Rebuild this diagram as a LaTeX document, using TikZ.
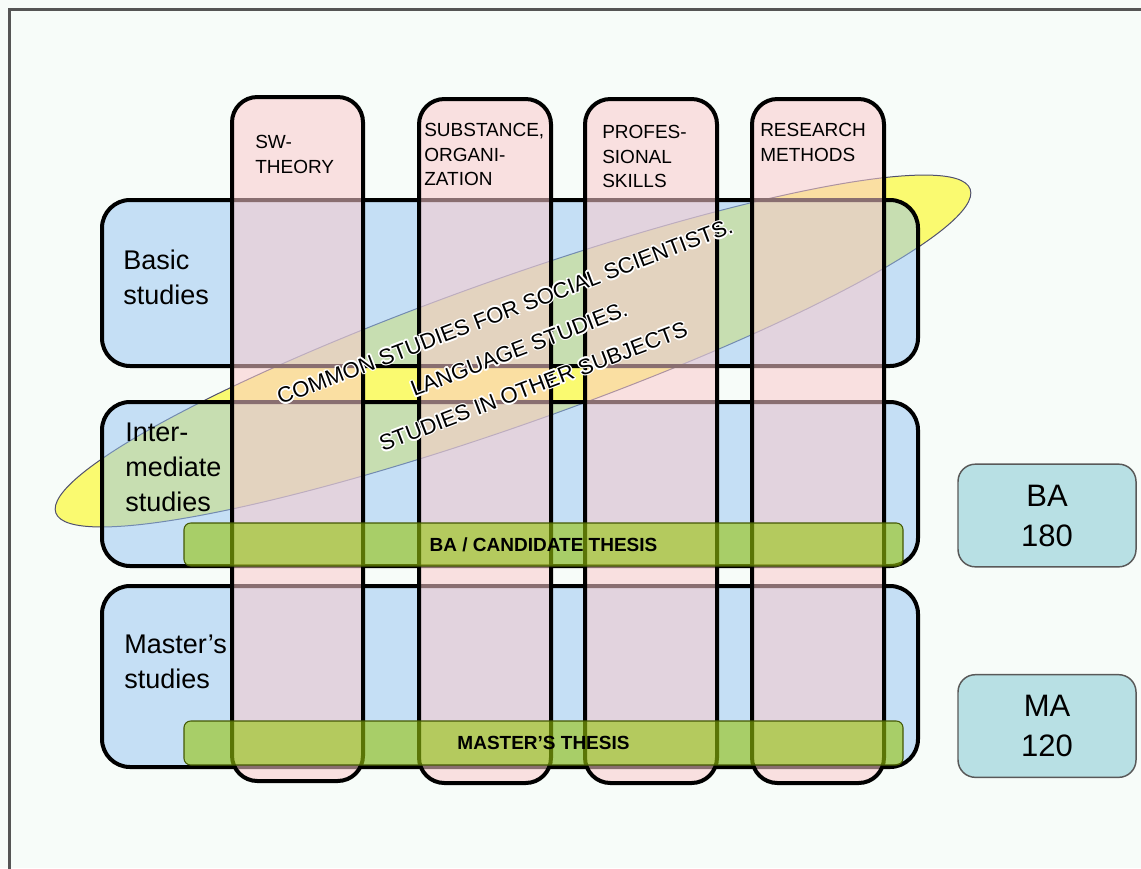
\documentclass[tikz,border=0pt]{standalone}
\usepackage{fontspec}
\setmainfont{Liberation Sans}
\usetikzlibrary{fit,shapes.geometric}
\definecolor{bgc}{RGB}{247,252,249}
\definecolor{rowc}{RGB}{149,196,243}
\definecolor{colc}{RGB}{251,202,204}
\definecolor{ellc}{RGB}{250,250,112}
\definecolor{barc}{RGB}{150,196,10}
\definecolor{degc}{RGB}{184,224,228}
\definecolor{framec}{RGB}{85,85,85}
\definecolor{ellline}{RGB}{80,80,110}
\newcommand\hlcopy[3]{\rlap{\hskip#1\raisebox{#2}{\textcolor{white}{#3}}}}
\newcommand\halo[1]{\hlcopy{1.2pt}{0pt}{#1}\hlcopy{-1.2pt}{0pt}{#1}\hlcopy{0pt}{1.2pt}{#1}\hlcopy{0pt}{-1.2pt}{#1}\hlcopy{.85pt}{.85pt}{#1}\hlcopy{-.85pt}{.85pt}{#1}\hlcopy{.85pt}{-.85pt}{#1}\hlcopy{-.85pt}{-.85pt}{#1}#1}
\tikzset{
 rowbox/.style={draw=black, line width=3pt, fill=rowc, fill opacity=0.5, rounded corners=21pt, inner sep=0pt},
 colbox/.style={draw=black, line width=3pt, fill=colc, fill opacity=0.55, rounded corners=19pt, inner sep=0pt},
 thesisbar/.style={draw=black!55!barc, line width=0.8pt, fill=barc, fill opacity=0.6, rounded corners=5pt, inner sep=0pt},
 degbox/.style={draw=black!65, line width=1.1pt, fill=degc, rounded corners=13pt, minimum width=133.5pt, minimum height=77pt, align=center, font=\fontsize{23.25}{30}\selectfont, inner sep=0pt},
 rowlabel/.style={anchor=north west, inner sep=0pt, align=left, font=\fontsize{20.25}{26.25}\selectfont},
 collabel/.style={anchor=north west, inner sep=0pt, align=left, font=\fontsize{14.25}{18.4}\selectfont},
 thesislabel/.style={inner sep=0pt, font=\bfseries\fontsize{14.25}{17}\selectfont},
 commonellipse/.style={ellipse, draw=ellline, line width=0.75pt, fill=ellc, inner sep=0pt},
 ellipselabel/.style={align=center, inner sep=0pt, font=\fontsize{16.5}{30}\selectfont},
}
\begin{document}
\begin{tikzpicture}[x=0.75pt,y=-0.75pt]
\useasboundingbox (0,0) rectangle (1141,868);
\fill[bgc] (0,0) rectangle (1141,868);
\begin{scope}
\clip (0,0) rectangle (1141,868);
\draw[framec, line width=2.25pt] (9,1000) -- (9,9) -- (1300,9);
\end{scope}
% ellipse
\node[commonellipse, rotate=19.5, minimum width=727.5pt, minimum height=109.5pt] (common) at (513,351) {};
% rows
\node[rowbox, fit={(102,200) (918,366)}] (basic) {};
\node[rowbox, fit={(102,402) (918,566)}] (inter) {};
\node[rowbox, fit={(102,586) (918,767)}] (master) {};
\node[rowlabel] (basiclbl) at (123,250) {Basic\\studies};
\node[rowlabel] (interlbl) at (125,423) {Inter-\\mediate\\studies};
\node[rowlabel] (masterlbl) at (124,635) {Master’s\\studies};
% columns
\node[colbox, fit={(232,97) (363,781)}] (swt) {};
\node[colbox, fit={(419,99) (551,783)}] (sub) {};
\node[colbox, fit={(585,99) (717,783)}] (prof) {};
\node[colbox, fit={(752,99) (884,783)}] (res) {};
\node[collabel] (swtlbl) at (255,135) {SW-\\THEORY};
\node[collabel] (sublbl) at (424,123) {SUBSTANCE,\\ORGANI-\\ZATION};
\node[collabel] (proflbl) at (602,125) {PROFES-\\SIONAL\\SKILLS};
\node[collabel] (reslbl) at (760,123) {RESEARCH\\METHODS};
% thesis bars
\node[thesisbar, fit={(184,523) (903,566)}] (bathesis) {};
\node[thesisbar, fit={(184,721) (903,765)}] (mathesis) {};
\node[thesislabel] (bathesislbl) at (543.5,544.5) {BA / CANDIDATE THESIS};
\node[thesislabel] (mathesislbl) at (543.5,743) {MASTER’S THESIS};
% ellipse text
\node[ellipselabel, rotate=20.8] (commonlbl) at (519,349) {\halo{COMMON STUDIES FOR SOCIAL SCIENTISTS.}\\\halo{LANGUAGE STUDIES.}\\\halo{STUDIES IN OTHER SUBJECTS}};
% degrees
\node[degbox] (ba) at (1047,515.5) {BA\\180};
\node[degbox] (ma) at (1047,726) {MA\\120};
\end{tikzpicture}
\end{document}
